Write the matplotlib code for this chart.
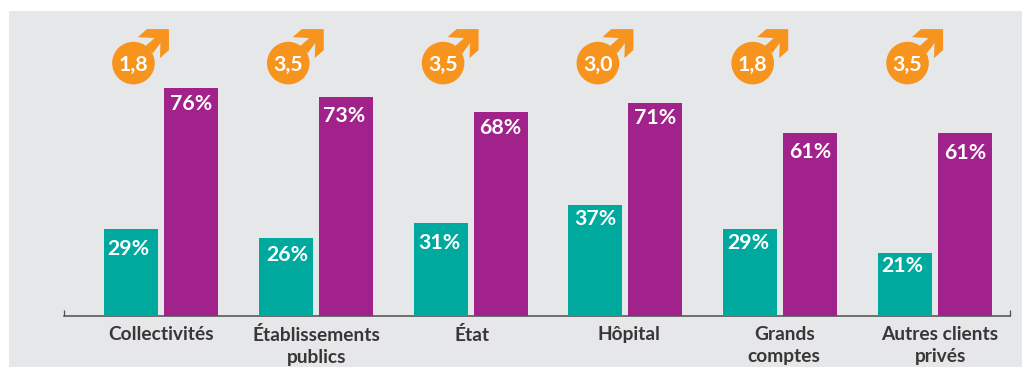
#!/usr/bin/env python3
from __future__ import annotations

import matplotlib
matplotlib.use("Agg")
import matplotlib.pyplot as plt
import matplotlib.transforms as mtransforms
import numpy as np
from matplotlib.patches import Circle, Polygon, Rectangle

categories = ["Collectivités", "Établissements\npublics", "État", "Hôpital", "Grands\ncomptes", "Autres clients\nprivés"]
men_share = [29, 26, 31, 37, 29, 21]
women_share = [76, 73, 68, 71, 61, 61]
ratios = ["1,8", "3,5", "3,5", "3,0", "1,8", "3,5"]

# nudges of the value labels, in pixels (x, down from bar top)
men_nudge = [(-3, 20), (2, 17), (-1, 20), (0, 14), (-2, 14), (-3, 13)]
women_nudge = [(0, 16), (-2, 19), (0, 16), (0, 15), (0, 19), (0, 20)]
# sideways shift of the category labels, in pixels
category_nudge = [0, 1, 1, 3, 4, 5]

TEAL = "#00A99D"
PURPLE = "#A1228B"
ORANGE = "#F7941E"
PANEL = "#E6E7E8"
INK = "#3A3638"
W, H = 1022, 367
DPI = 100

# male sign arrow, pixels relative to the circle centre (y up)
ARROW = [(35.5, 34), (35.5, 13), (26.5, 5), (27, 20), (19.5, 10), (12, 17), (21, 25), (4.5, 26), (13.5, 34)]


def main() -> None:
    plt.rcParams["font.family"] = ["Lato", "Carlito", "Open Sans", "DejaVu Sans"]
    plt.rcParams["font.weight"] = "bold"

    fig = plt.figure(figsize=(W / DPI, H / DPI), dpi=DPI, facecolor="white")
    fig.add_artist(Rectangle((9 / W, 0), 1 - 9 / W, 1 - 11 / H, transform=fig.transFigure, color=PANEL, lw=0, zorder=-1))

    ax = fig.add_axes([64 / W, 51 / H, 946 / W, 305 / H])
    ax.patch.set_alpha(0)
    ax.set_xlim(-0.6266, 5.484)
    ax.set_ylim(0, 305 / 3)

    pos = np.arange(len(categories))
    offset, width = 0.194, 0.349
    ax.bar(pos - offset, men_share, width, color=TEAL, zorder=3)
    ax.bar(pos + offset, women_share, width, color=PURPLE, zorder=3)

    for spine in ("top", "left", "right"):
        ax.spines[spine].set_visible(False)
    ax.spines["bottom"].set_color("#4D4D4F")
    ax.spines["bottom"].set_linewidth(1.1)
    ax.set_yticks([])
    ax.set_xticks(pos)
    ax.set_xticklabels(categories, fontsize=13.8, color=INK, linespacing=1.35)
    ax.tick_params(axis="x", which="major", length=0, pad=7)
    ax.set_xticks(ax.get_xlim(), minor=True)
    ax.tick_params(axis="x", which="minor", direction="in", length=4.5, width=0.9, color="#4D4D4F")
    for label, dx in zip(ax.get_xticklabels(), category_nudge):
        label.set_transform(label.get_transform() + mtransforms.Affine2D().translate(dx, 0))

    for x, vals, nudges in ((pos - offset, men_share, men_nudge), (pos + offset, women_share, women_nudge)):
        for xi, v, (dx, dy) in zip(x, vals, nudges):
            ax.annotate(f"{v}%", (xi, v), xytext=(dx * 0.72, -dy * 0.72), textcoords="offset points",
                        ha="center", va="center", color="white", fontsize=15.3, zorder=4)

    # ratio badges above the teal bars
    for xi, ratio in zip(pos - offset, ratios):
        anchor = mtransforms.ScaledTranslation(xi + 0.016, 84.3, ax.transData)
        ax.add_patch(Circle((0, 0), 21.3, transform=anchor, color=ORANGE, lw=0, clip_on=False))
        ax.add_patch(Polygon(ARROW, closed=True, transform=anchor, color=ORANGE, lw=0, clip_on=False))
        ax.annotate(ratio, (xi + 0.016, 83.7), ha="center", va="center", color="white", fontsize=15.3, zorder=4)

    fig.savefig("out.png", dpi=DPI)
    plt.close(fig)


if __name__ == "__main__":
    main()
